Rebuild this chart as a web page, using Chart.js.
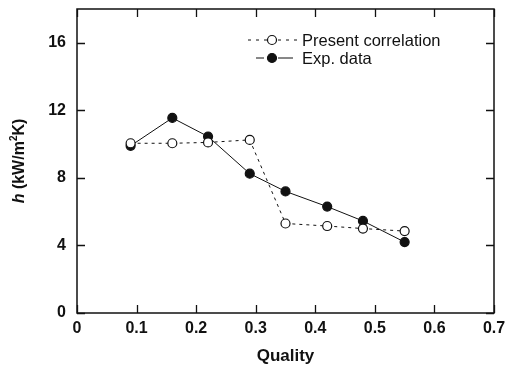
<!DOCTYPE html>
<html>
<head>
<meta charset="utf-8">
<script src="https://cdn.jsdelivr.net/npm/chart.js@4/dist/chart.umd.min.js"></script>
<style>
  html, body { margin: 0; padding: 0; background: #fff; }
  #wrap { width: 506px; height: 367px; }
</style>
</head>
<body>
<div id="wrap"><canvas id="chart"></canvas></div>
<script>
const quality = [0.09, 0.16, 0.22, 0.29, 0.35, 0.42, 0.48, 0.55];
const correlation = [10.05, 10.05, 10.1, 10.25, 5.3, 5.15, 5.0, 4.85];
const expData = [9.9, 11.55, 10.45, 8.25, 7.2, 6.3, 5.45, 4.2];
const xTicks = [0, 0.1, 0.2, 0.3, 0.4, 0.5, 0.6, 0.7];
const yTicks = [0, 4, 8, 12, 16];
const seriesNames = ['Present correlation', 'Exp. data'];

const ink = '#111';
const family = '"Liberation Sans", Arial, sans-serif';
const tickFont = {family, size: 16, weight: 'bold'};

function toPoints(ys) {
    return quality.map((x, i) => ({x, y: ys[i]}));
}

// frame, inward ticks on all four sides, legend and the y title
const framePlugin = {
    id: 'frame',
    afterDraw(chart) {
        const {ctx, chartArea: a, scales} = chart;
        ctx.save();
        ctx.strokeStyle = ink;
        ctx.lineWidth = 1.5;
        ctx.strokeRect(a.left, a.top, a.right - a.left, a.bottom - a.top);
        ctx.lineWidth = 1.3;
        ctx.beginPath();
        xTicks.forEach(v => {
            const px = Math.round(scales.x.getPixelForValue(v)) + 0.5;
            ctx.moveTo(px, a.bottom); ctx.lineTo(px, a.bottom - 8);
            ctx.moveTo(px, a.top); ctx.lineTo(px, a.top + 8);
        });
        yTicks.forEach(v => {
            const py = Math.round(scales.y.getPixelForValue(v)) + 0.5;
            ctx.moveTo(a.left, py); ctx.lineTo(a.left + 8, py);
            ctx.moveTo(a.right, py); ctx.lineTo(a.right - 8, py);
        });
        ctx.stroke();

        // legend
        const rows = [
            {y: 40, segs: [[248, 251], [256, 259], [264, 267], [278, 281], [286, 289], [294, 297]], fill: '#fff'},
            {y: 58, segs: [[256, 264], [278, 293]], fill: ink}
        ];
        ctx.font = '16.5px ' + family;
        ctx.textBaseline = 'middle';
        rows.forEach((r, i) => {
            ctx.lineWidth = 1;
            ctx.beginPath();
            r.segs.forEach(s => { ctx.moveTo(s[0], r.y); ctx.lineTo(s[1], r.y); });
            ctx.stroke();
            ctx.beginPath();
            ctx.arc(272, r.y, 4.5, 0, Math.PI * 2);
            ctx.fillStyle = r.fill;
            ctx.fill();
            ctx.lineWidth = 1.2;
            ctx.stroke();
            ctx.fillStyle = ink;
            ctx.fillText(seriesNames[i], 302, r.y + 1);
        });

        // y title: italic h, superscript 2
        const parts = [
            {t: 'h', f: 'italic bold 16px ' + family, dy: 0},
            {t: ' (kW/m', f: 'bold 16px ' + family, dy: 0},
            {t: '2', f: 'bold 10px ' + family, dy: -6},
            {t: 'K)', f: 'bold 16px ' + family, dy: 0}
        ];
        let total = 0;
        parts.forEach(p => { ctx.font = p.f; p.w = ctx.measureText(p.t).width; total += p.w; });
        ctx.translate(19, (a.top + a.bottom) / 2);
        ctx.rotate(-Math.PI / 2);
        ctx.textBaseline = 'middle';
        ctx.textAlign = 'left';
        let x = -total / 2;
        parts.forEach(p => {
            ctx.font = p.f;
            ctx.fillText(p.t, x, p.dy + 1);
            x += p.w;
        });
        ctx.restore();
    }
};

new Chart(document.getElementById('chart'), {
    type: 'scatter',
    data: {
        datasets: [
            {
                label: seriesNames[0],
                data: toPoints(correlation),
                showLine: true,
                borderColor: ink,
                borderWidth: 1,
                borderDash: [3, 4],
                pointRadius: 4.5,
                pointBorderWidth: 1.2,
                pointBackgroundColor: '#fff',
                pointBorderColor: ink
            },
            {
                label: seriesNames[1],
                data: toPoints(expData),
                showLine: true,
                borderColor: ink,
                borderWidth: 1,
                pointRadius: 4.5,
                pointBorderWidth: 1.2,
                pointBackgroundColor: ink,
                pointBorderColor: ink
            }
        ]
    },
    options: {
        responsive: true,
        maintainAspectRatio: false,
        animation: false,
        layout: {padding: {left: 0, top: 9, right: 12, bottom: 0}},
        plugins: {legend: {display: false}, tooltip: {enabled: false}},
        scales: {
            x: {
                type: 'linear',
                min: 0, max: 0.7,
                afterBuildTicks: axis => { axis.ticks = xTicks.map(v => ({value: v})); },
                afterFit: axis => { axis.height = 54; axis.paddingLeft = 0; axis.paddingRight = 0; },
                grid: {display: false, drawTicks: false},
                border: {display: false},
                ticks: {
                    color: ink, font: tickFont, padding: 6, maxRotation: 0,
                    callback: v => v === 0 ? '0' : v.toFixed(1)
                },
                title: {
                    display: true, text: 'Quality', color: ink,
                    font: {family, size: 17, weight: 'bold'},
                    padding: {top: 1, bottom: 0}
                }
            },
            y: {
                type: 'linear',
                min: 0, max: 18,
                afterBuildTicks: axis => { axis.ticks = yTicks.map(v => ({value: v})); },
                afterFit: axis => { axis.width = 77; axis.paddingTop = 0; axis.paddingBottom = 0; },
                grid: {display: false, drawTicks: false},
                border: {display: false},
                ticks: {color: ink, font: tickFont, padding: 11}
            }
        }
    },
    plugins: [framePlugin]
});
</script>
</body>
</html>
